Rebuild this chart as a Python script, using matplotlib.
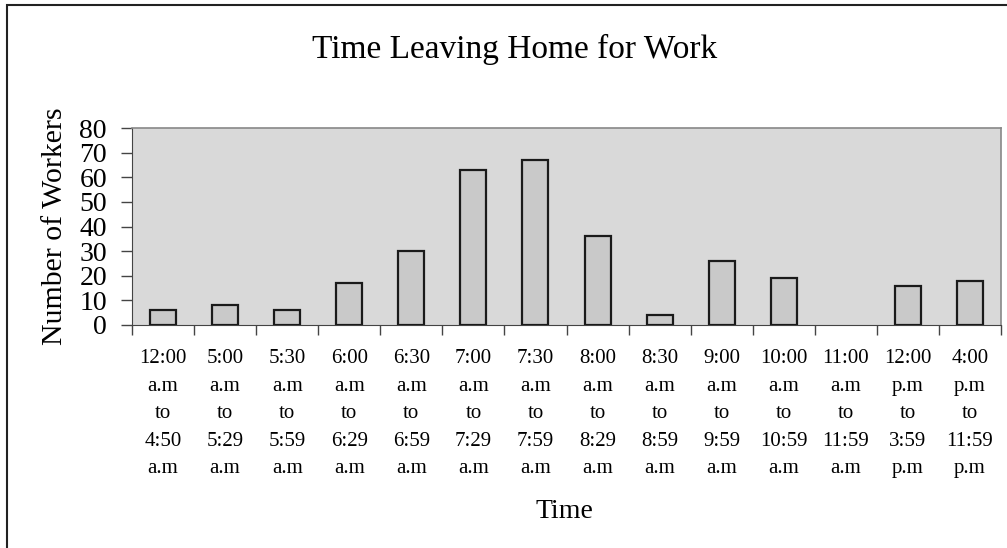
import numpy as np
import matplotlib
matplotlib.use("Agg")
import matplotlib.pyplot as plt
from matplotlib.patches import Rectangle

START = ["12:00", "5:00", "5:30", "6:00", "6:30", "7:00", "7:30",
         "8:00", "8:30", "9:00", "10:00", "11:00", "12:00", "4:00"]
START_PERIOD = ["a.m"] * 12 + ["p.m"] * 2
END = ["4:50", "5:29", "5:59", "6:29", "6:59", "7:29", "7:59",
       "8:29", "8:59", "9:59", "10:59", "11:59", "3:59", "11:59"]
END_PERIOD = ["a.m"] * 12 + ["p.m"] * 2
WORKERS = [6, 8, 6, 17, 30, 63, 67, 36, 4, 26, 19, 0, 16, 18]
Y_TICKS = [0, 10, 20, 30, 40, 50, 60, 70, 80]

plt.rcParams["font.family"] = ["Liberation Serif", "DejaVu Serif"]

W, H = 1007, 548
fig = plt.figure(figsize=(W / 100, H / 100), dpi=100)
fig.patch.set_facecolor("white")

# outer frame (right/bottom edges fall off the page)
fig.patches.append(Rectangle((7 / W, -0.05), 1.1, 1 - 5 / H + 0.05,
                             transform=fig.transFigure, fill=False,
                             edgecolor="#222222", linewidth=1.5))

ax = fig.add_axes([132 / W, 1 - 325 / H, (1001 - 132) / W, (325 - 128) / H])
ax.set_facecolor("#d9d9d9")

labels = [f"{s}\n{sp}\nto\n{e}\n{ep}"
          for s, sp, e, ep in zip(START, START_PERIOD, END, END_PERIOD)]
x = np.arange(len(WORKERS))
# a zero count leaves no visible bar outline
edges = ["#1a1a1a" if v > 0 else "none" for v in WORKERS]
ax.bar(x, WORKERS, width=0.42, color="#c9c9c9", edgecolor=edges,
       linewidth=1.6, zorder=3)

ax.set_xlim(-0.5, len(WORKERS) - 0.5)
ax.set_ylim(0, 80)
ax.set_yticks(Y_TICKS)
ax.tick_params(axis="y", labelsize=20, length=8, width=1, pad=10,
               color="#444444", direction="out")
ax.set_xticks(x)
ax.set_xticklabels(labels, fontsize=15, linespacing=1.6)
ax.tick_params(axis="x", which="major", length=0, pad=17.5)
ax.set_xticks(np.arange(len(WORKERS) + 1) - 0.5, minor=True)
ax.tick_params(axis="x", which="minor", length=7, width=1,
               color="#444444", direction="out")

for side in ["top", "right"]:
    ax.spines[side].set_color("#888888")
    ax.spines[side].set_linewidth(1.2)
ax.spines["left"].set_color("#444444")
ax.spines["bottom"].set_color("#444444")

fig.text(62 / W, 1 - 226 / H, "Number of Workers", fontsize=21.5,
         rotation=90, rotation_mode="anchor", ha="center", va="baseline")
fig.text(564 / W, 1 - 518 / H, "Time", fontsize=20,
         ha="center", va="baseline")
fig.text(515 / W, 1 - 58 / H, "Time Leaving Home for Work", fontsize=24,
         ha="center", va="baseline")

plt.savefig("out.png", dpi=100)
